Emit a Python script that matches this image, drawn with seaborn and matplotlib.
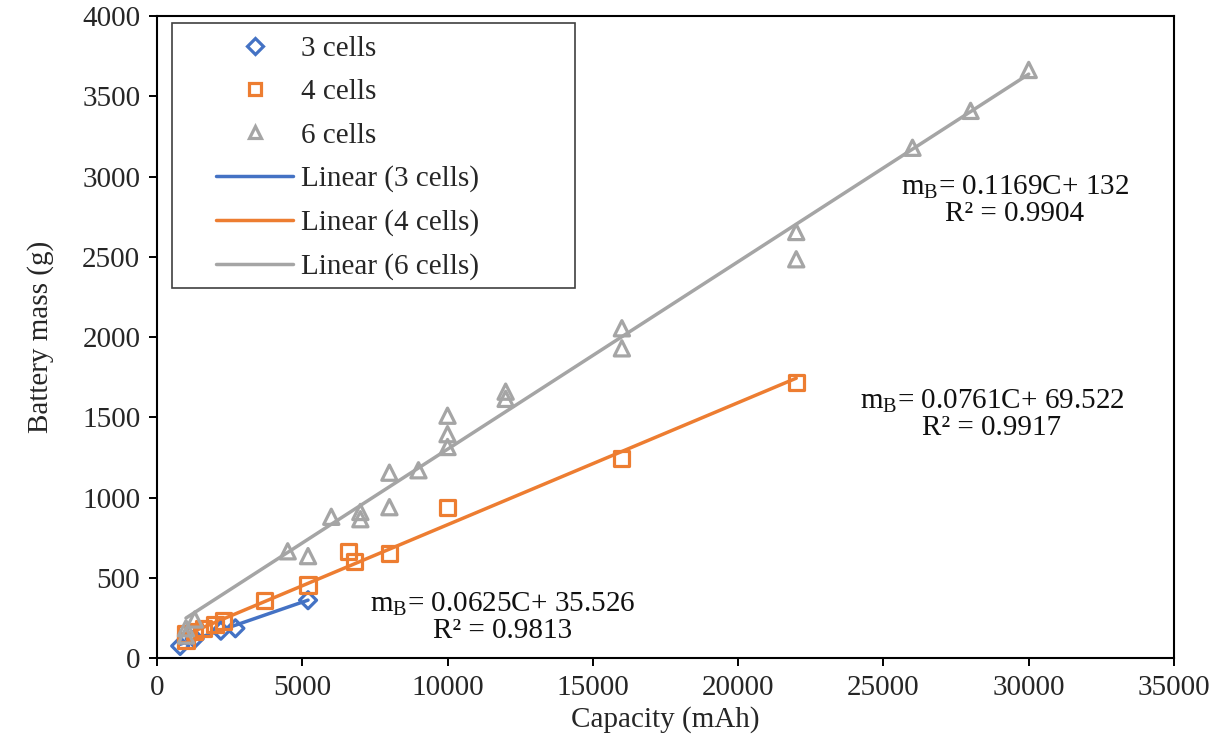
import numpy as np
import pandas as pd
import matplotlib
matplotlib.use("Agg")
import matplotlib.pyplot as plt
import seaborn as sns
from matplotlib.lines import Line2D
from matplotlib.patches import Rectangle

# ---- data ----
cap_3 = [800, 1300, 2200, 2700, 5200]
mass_3 = [75, 120, 170, 185, 360]

cap_4 = [1000, 1000, 1300, 1600, 2000, 2300, 3700, 5200, 6600, 6800, 8000, 10000, 16000, 22000]
mass_4 = [110, 150, 165, 185, 210, 230, 360, 455, 665, 600, 650, 940, 1245, 1715]

cap_6 = [1000, 1000, 1300, 4500, 5200, 6000, 7000, 7000, 8000, 8000, 9000, 10000, 10000, 10000,
         12000, 12000, 16000, 16000, 22000, 22000, 26000, 28000, 30000]
mass_6 = [140, 185, 240, 665, 635, 880, 910, 865, 1155, 940, 1170, 1510, 1395, 1315,
          1660, 1615, 2055, 1930, 2655, 2485, 3180, 3410, 3665]

series_labels = ["3 cells", "4 cells", "6 cells"]
fit_slopes = [0.0625, 0.0761, 0.1169]
fit_intercepts = [35.526, 69.522, 132.0]
fit_labels = [r"m$_\mathregular{B}$= 0.0625C+ 35.526" + "\nR² = 0.9813",
              r"m$_\mathregular{B}$= 0.0761C+ 69.522" + "\nR² = 0.9917",
              r"m$_\mathregular{B}$= 0.1169C+ 132" + "\nR² = 0.9904"]

x_ticks = [0, 5000, 10000, 15000, 20000, 25000, 30000, 35000]
y_ticks = [0, 500, 1000, 1500, 2000, 2500, 3000, 3500, 4000]

# ---- style ----
sns.set_theme(style="white")
plt.rcParams['font.family'] = ['Liberation Serif', 'DejaVu Serif']
plt.rcParams['mathtext.fontset'] = 'custom'
plt.rcParams['mathtext.rm'] = 'Liberation Serif'
plt.rcParams['mathtext.it'] = 'Liberation Serif:italic'

colors = ["#4472C4", "#ED7D31", "#A5A5A5"]
markers = ["D", "s", "^"]
msizes = [75, 120, 120]
caps = [cap_3, cap_4, cap_6]
masses = [mass_3, mass_4, mass_6]

fig = plt.figure(figsize=(12.26, 7.36), dpi=100)
ax = fig.add_axes([0.128, 0.106, 0.8296, 0.872])

fs = 21

for i in range(3):
    df = pd.DataFrame({"C": caps[i], "m": masses[i]})
    sns.scatterplot(data=df, x="C", y="m", ax=ax, marker=markers[i], s=msizes[i],
                    facecolor="none", edgecolor=colors[i], linewidth=2.3, zorder=3)
for i in range(3):
    xs = np.array([min(caps[i]), max(caps[i])])
    dfl = pd.DataFrame({"C": xs, "m": fit_slopes[i] * xs + fit_intercepts[i]})
    sns.lineplot(data=dfl, x="C", y="m", ax=ax, color=colors[i], linewidth=2.5, zorder=2)

handles = []
for i in range(3):
    handles.append(Line2D([], [], linestyle="none", marker=markers[i], markersize=9 if i else 8,
                          markerfacecolor="none", markeredgecolor=colors[i], markeredgewidth=2.3))
for i in range(3):
    handles.append(Line2D([], [], color=colors[i], linewidth=2.5))
labels = series_labels + ["Linear (%s)" % s for s in series_labels]
leg = ax.legend(handles, labels, loc="upper left", bbox_to_anchor=(0.058, 0.970),
                fontsize=fs, frameon=False,
                labelspacing=0.58, handlelength=2.65, handletextpad=0.25, borderpad=0.0,
                borderaxespad=0)
leg.set_zorder(6)
frame = Rectangle((0.0147, 0.576), 0.3963, 0.413, transform=ax.transAxes, facecolor="white",
                  edgecolor="#404040", linewidth=1.2, zorder=5)
ax.add_patch(frame)

ann_pos = [(11906, 255), (28733, 1520), (29525, 2853)]
for i in range(3):
    ax.text(ann_pos[i][0], ann_pos[i][1], fit_labels[i], fontsize=fs, ha="center", va="center",
            multialignment="center", linespacing=1.0, color="#111111")

ax.set_xlim(0, 35000)
ax.set_ylim(0, 4000)
ax.set_xticks(x_ticks)
ax.set_yticks(y_ticks)
ax.tick_params(axis="both", which="major", labelsize=fs, direction="out", length=6, width=1.4,
               color="black", bottom=True, left=True, pad=6)
for sp in ax.spines.values():
    sp.set_color("black")
    sp.set_linewidth(1.5)
ax.set_xlabel("Capacity (mAh)", fontsize=fs, labelpad=4)
ax.set_ylabel("Battery mass (g)", fontsize=fs, labelpad=20)

fig.savefig("out.png", dpi=100)
